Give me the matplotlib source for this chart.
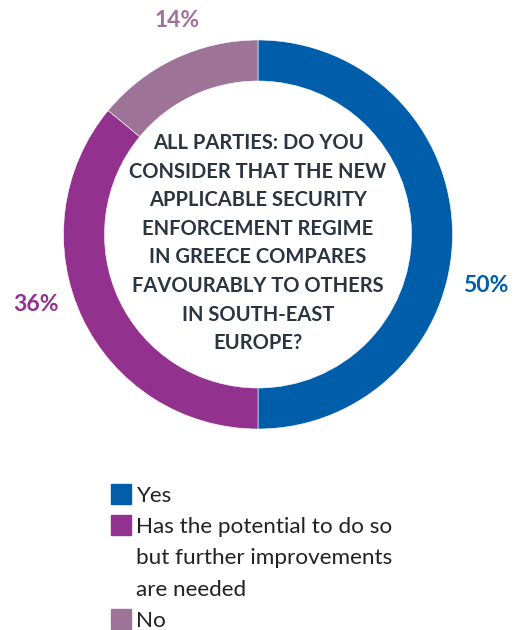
import matplotlib.pyplot as plt
from matplotlib.patches import Rectangle

# survey answers
labels = ['Yes',
          'Has the potential to do so\nbut further improvements\nare needed',
          'No']
shares = [50, 36, 14]
colors = ['#005DAA', '#93318E', '#9E7398']
question = ['ALL PARTIES: DO YOU', 'CONSIDER THAT THE NEW',
            'APPLICABLE SECURITY', 'ENFORCEMENT REGIME',
            'IN GREECE COMPARES', 'FAVOURABLY TO OTHERS',
            'IN SOUTH-EAST', 'EUROPE?']

W, H = 518, 630
fig = plt.figure(figsize=(W / 100, H / 100), dpi=100)
ax = fig.add_axes([0, 0, 1, 1])
ax.axis('off')

# ring
ax.pie(shares, colors=colors, startangle=90, counterclock=False,
       radius=194.5, center=(258, H - 234.5),
       wedgeprops=dict(width=41, edgecolor='white', linewidth=0.4))
ax.set_xlim(0, W)
ax.set_ylim(0, H)
ax.set_aspect('equal')

# question in the hole, one line at a time
for i, line in enumerate(question):
    ax.text(258, H - (149 + 28.6 * i), line, ha='center', va='baseline',
            fontsize=14.5, fontweight='bold', family='Lato',
            color='#2B3440')

# percentage labels around the ring
label_pos = [(486, 292), (36, 311), (177, 27)]
for (x, y), v, c in zip(label_pos, shares, colors):
    ax.text(x, H - y, f'{v}%', ha='center', va='baseline', fontsize=16.5,
            fontweight='bold', family='Lato', color=c)

# legend
base = 502
for lab, c in zip(labels, colors):
    ax.add_patch(Rectangle((111, H - base - 2), 20, 20, color=c))
    for line in lab.split('\n'):
        ax.text(136, H - base, line, ha='left', va='baseline', fontsize=16.2,
                family='Lato', color='#222222')
        base += 31.25

fig.savefig('out.png', dpi=100)
